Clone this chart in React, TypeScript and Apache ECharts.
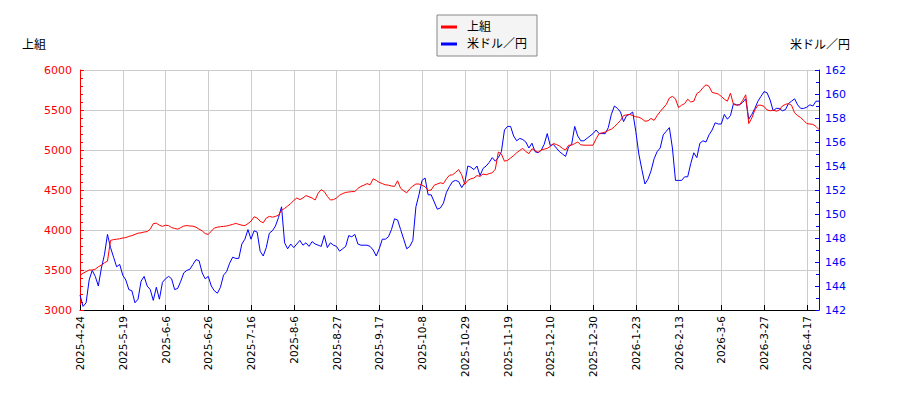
import React, { useEffect, useRef } from 'react';
import * as echarts from 'echarts';
import type { EChartsOption } from 'echarts';

// days with no row in the data: Japanese market holidays plus one gap
const skippedDays = [
  '2025-04-29', '2025-05-05', '2025-05-06', '2025-07-21', '2025-08-11',
  '2025-09-15', '2025-09-23', '2025-10-13', '2025-11-03', '2025-11-24',
  '2025-12-31', '2026-01-01', '2026-01-02', '2026-01-12', '2026-02-11',
  '2026-02-23', '2026-03-20', '2026-04-03',
];
const firstDay = '2025-04-24';
const dayCount = 243;

const kamigumi = [
  3430, 3460, 3480, 3500, 3500, 3510, 3540, 3560, 3590, 3610, 3870, 3880, 3885, 3890, 3900,
  3905, 3920, 3930, 3945, 3960, 3965, 3975, 3980, 4010, 4080, 4085, 4060, 4045, 4060,
  4055, 4030, 4020, 4010, 4030, 4050, 4055, 4050, 4048, 4035, 4010, 3990, 3955, 3945, 3985, 4025, 4035, 4042, 4045, 4050,
  4060, 4070, 4083, 4070, 4060, 4055, 4080, 4110, 4165, 4150, 4110,
  4090, 4150, 4170, 4160, 4170, 4185, 4245, 4270, 4300, 4330, 4370, 4400, 4380, 4400, 4430, 4415,
  4400, 4375, 4460, 4505, 4480, 4420, 4375, 4380, 4400, 4435, 4455, 4470, 4475, 4480, 4480, 4520,
  4545, 4560, 4580, 4565, 4640, 4620, 4595, 4580, 4565, 4560, 4550, 4545, 4615, 4520, 4490, 4465,
  4515, 4550, 4575, 4575, 4560, 4540, 4495, 4500, 4560, 4575, 4590, 4580, 4640, 4685,
  4690, 4720, 4755, 4690, 4570, 4620, 4640, 4650, 4680, 4670, 4700, 4690, 4705, 4715, 4760, 4975,
  4950, 4860, 4870, 4900, 4930, 4965, 4995, 5020, 4980, 4955, 5015, 4995, 4970, 5000, 5010, 5020,
  5045, 5080, 5070, 5050, 5020, 5000, 5060, 5060, 5080, 5100, 5065, 5060, 5060, 5060, 5060, 5140,
  5205, 5215, 5225, 5245, 5260, 5290, 5330, 5370, 5430, 5440, 5445, 5430, 5415,
  5410, 5390, 5360, 5365, 5395, 5370, 5430, 5480, 5525, 5570, 5650, 5670, 5640, 5530, 5560, 5580,
  5635, 5600, 5610, 5705, 5730, 5780, 5815, 5795, 5720, 5710, 5700, 5670, 5635, 5610, 5710, 5570,
  5560, 5565, 5620, 5690, 5330, 5400, 5500, 5560, 5560, 5545, 5500, 5490, 5500, 5485, 5500, 5550,
  5570, 5580, 5560, 5465, 5430, 5405, 5370, 5330, 5325, 5320, 5295, 5255,
];

const usdJpy = [
  143.25, 142.3, 142.6, 144.5, 145.3, 144.8, 144.0, 145.5, 146.6, 148.3, 147.2, 146.4, 145.6, 145.8, 144.9,
  144.5, 143.7, 143.6, 142.6, 142.9, 144.4, 144.8, 144.0, 143.7, 142.8, 143.9, 142.9, 144.3, 144.6,
  144.8, 144.6, 143.7, 143.8, 144.4, 145.1, 145.3, 145.4, 145.8, 146.2, 146.1, 145.1, 144.6, 144.8,
  144.0, 143.6, 143.4, 143.9, 144.9, 145.2, 145.9, 146.4, 146.3, 146.3, 147.5, 147.9, 148.7, 147.9,
  148.6, 148.5, 146.9, 146.5, 147.2,
  148.4, 148.6, 149.0, 149.7, 150.6, 147.6, 147.1, 147.5, 147.2, 147.5, 147.8, 147.4, 147.6, 147.3,
  147.7, 147.5, 147.4, 147.3, 148.2, 147.2, 147.6, 147.4, 147.3, 146.9, 147.1, 147.3, 148.2, 148.1,
  148.3, 147.5, 147.4, 147.4, 147.4, 147.3, 147.0, 146.5, 147.1, 147.9, 147.9, 148.1, 148.7, 149.6,
  149.5, 148.7, 147.9, 147.1, 147.3, 147.8, 150.6, 151.6, 152.8, 153.0, 151.6, 151.6, 151.0, 150.4,
  150.5, 150.9, 151.8, 152.3,
  152.7, 152.8, 152.7, 152.2, 152.6, 154.0, 153.9, 153.7, 154.0, 153.2, 153.8, 154.0, 154.3, 154.7,
  154.4, 154.7, 155.2, 157.0, 157.3, 157.3, 156.5, 156.1, 156.3, 156.2, 156.0, 155.5, 155.9, 155.2,
  155.1, 155.3, 155.8, 156.7, 155.7, 155.8, 155.5, 155.2, 155.0, 154.8, 155.6, 155.8, 157.3, 156.5,
  156.1, 156.1, 156.3, 156.5, 156.7, 157.0, 156.7, 156.7, 156.7, 157.2, 158.3, 159.0, 158.8, 158.5,
  157.7, 158.2, 158.3, 158.5, 156.9,
  155.0, 153.7, 152.5, 152.9, 153.6, 154.6, 155.2, 155.5, 156.6, 156.9, 157.2, 155.5, 152.8, 152.8,
  152.8, 153.1, 153.1, 154.2, 155.1, 154.7, 155.9, 156.1, 156.0, 156.6, 157.0, 157.6, 157.5, 157.5,
  158.3, 157.9, 158.2, 159.2, 159.1, 159.1, 159.3, 159.6, 157.9, 158.3, 158.8, 159.4, 159.8, 160.2,
  160.1, 159.5, 158.6, 158.8, 158.8, 158.6, 158.7, 159.2, 159.4, 159.6, 159.1, 158.8, 158.8, 158.9,
  159.1, 159.0, 159.4, 159.4,
];

function tradingDays(start: string, count: number): string[] {
  const out: string[] = [];
  const d = new Date(start + 'T00:00:00Z');
  while (out.length < count) {
    const iso = d.toISOString().slice(0, 10);
    const wd = d.getUTCDay();
    if (wd !== 0 && wd !== 6 && !skippedDays.includes(iso)) {
      out.push(`${d.getUTCFullYear()}-${d.getUTCMonth() + 1}-${d.getUTCDate()}`);
    }
    d.setUTCDate(d.getUTCDate() + 1);
  }
  return out;
}

const dates = tradingDays(firstDay, dayCount);

const FONT = '"DejaVu Sans", "Noto Sans CJK JP", sans-serif';

const App: React.FC = () => {
  const ref = useRef<HTMLDivElement>(null);

  useEffect(() => {
    if (!ref.current) return;
    const chart = echarts.init(ref.current, null, { renderer: 'svg' });
    const option: EChartsOption = {
      animation: false,
      backgroundColor: '#fff',
      textStyle: { fontFamily: FONT },
      grid: { left: 80, right: 81, top: 70, bottom: 90 },
      legend: {
        orient: 'vertical',
        left: 437,
        top: 15,
        padding: [6, 10, 6, 4],
        itemGap: 5,
        itemWidth: 16,
        itemHeight: 3,
        icon: 'rect',
        backgroundColor: '#f4f4f4',
        borderColor: '#888',
        borderWidth: 1,
        borderRadius: 0,
        textStyle: { fontSize: 12, color: '#000', fontFamily: FONT, padding: [0, 0, 0, 5] },
        data: ['上組', '米ドル／円'],
      },
      graphic: [
        { type: 'text', left: 22, top: 39, style: { text: '上組', fontSize: 12, fill: '#000', fontFamily: FONT } },
        { type: 'text', right: 50, top: 39, style: { text: '米ドル／円', fontSize: 12, fill: '#000', fontFamily: FONT } },
      ],
      xAxis: {
        type: 'category',
        data: dates,
        boundaryGap: false,
        axisLine: { lineStyle: { color: '#000', width: 1 } },
        axisTick: { inside: true, length: 5, interval: 13, lineStyle: { color: '#000' } },
        axisLabel: { interval: 13, rotate: 90, fontSize: 10.5, color: '#000', margin: 6, fontFamily: FONT },
        splitLine: { show: true, interval: 13, lineStyle: { color: '#cccccc', width: 1 } },
      },
      yAxis: [
        {
          type: 'value',
          min: 3000,
          max: 6000,
          interval: 500,
          position: 'left',
          axisLine: { show: true, lineStyle: { color: '#ff0000' } },
          axisTick: { show: true, inside: true, length: 4, lineStyle: { color: '#ff0000' } },
          minorTick: { show: true, splitNumber: 5, length: 3, lineStyle: { color: '#ff0000' } },
          axisLabel: { color: '#ff0000', fontSize: 11, margin: 8, fontFamily: FONT, formatter: (v: number) => String(v) },
          splitLine: { show: true, lineStyle: { color: '#cccccc', width: 1 } },
        },
        {
          type: 'value',
          min: 142,
          max: 162,
          interval: 2,
          position: 'right',
          axisLine: { show: true, lineStyle: { color: '#0000ff' } },
          axisTick: { show: true, inside: true, length: 4, lineStyle: { color: '#0000ff' } },
          minorTick: { show: true, splitNumber: 2, length: 3, lineStyle: { color: '#0000ff' } },
          axisLabel: { color: '#0000ff', fontSize: 11, margin: 6, fontFamily: FONT, formatter: (v: number) => String(v) },
          splitLine: { show: false },
        },
      ],
      series: [
        {
          name: '上組',
          type: 'line',
          yAxisIndex: 0,
          data: kamigumi,
          showSymbol: false,
          symbol: 'none',
          lineStyle: { color: '#ff0000', width: 1 },
          itemStyle: { color: '#ff0000' },
          z: 3,
        },
        {
          name: '米ドル／円',
          type: 'line',
          yAxisIndex: 1,
          data: usdJpy,
          showSymbol: false,
          symbol: 'none',
          lineStyle: { color: '#0000ff', width: 1 },
          itemStyle: { color: '#0000ff' },
          z: 2,
        },
      ],
    };
    chart.setOption(option);
    return () => chart.dispose();
  }, []);

  return <div ref={ref} style={{ width: 900, height: 400, margin: -8 }} />;
};

export default App;
